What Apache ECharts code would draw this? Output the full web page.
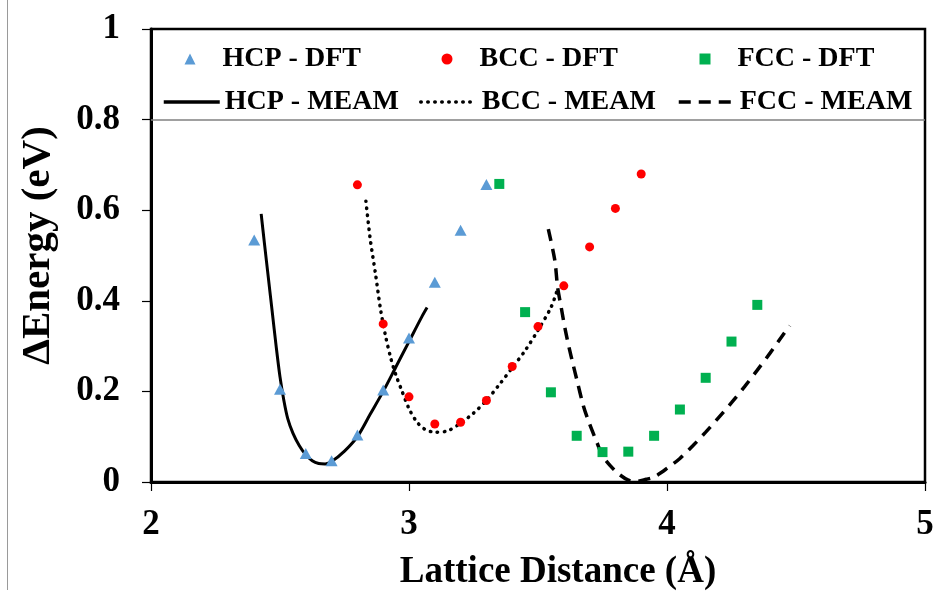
<!DOCTYPE html>
<html>
<head>
<meta charset="utf-8">
<title>Lattice Distance vs ΔEnergy</title>
<script src="https://cdn.jsdelivr.net/npm/echarts@6.0.0/dist/echarts.min.js"></script>
<style>
  html, body { margin: 0; padding: 0; background: #fff; }
  #chart { width: 938px; height: 594px; }
</style>
</head>
<body>
<div id="chart"></div>
<script>
// DFT points [lattice distance (Å), ΔE (eV)]
const hcpDft = [
  [2.4, 0.534], [2.5, 0.205], [2.6, 0.063], [2.7, 0.047], [2.8, 0.104],
  [2.9, 0.203], [3.0, 0.318], [3.1, 0.441], [3.2, 0.556], [3.3, 0.657]
]
const bccDft = [
  [2.8, 0.656], [2.9, 0.349], [3.0, 0.188], [3.1, 0.128], [3.2, 0.132],
  [3.3, 0.180], [3.4, 0.255], [3.5, 0.343], [3.6, 0.433], [3.7, 0.519],
  [3.8, 0.604], [3.9, 0.680]
]
const fccDft = [
  [3.35, 0.658], [3.45, 0.375], [3.55, 0.198], [3.65, 0.102], [3.75, 0.066],
  [3.85, 0.067], [3.95, 0.102], [4.05, 0.160], [4.15, 0.230], [4.25, 0.310],
  [4.35, 0.391]
]

// MEAM curves
const hcpMeam = [
  [2.427, 0.592], [2.44, 0.525], [2.455, 0.45], [2.47, 0.375], [2.485, 0.30],
  [2.5, 0.232], [2.515, 0.18], [2.53, 0.14], [2.55, 0.108], [2.575, 0.08],
  [2.6, 0.06], [2.625, 0.047], [2.65, 0.041], [2.675, 0.040], [2.7, 0.045],
  [2.75, 0.068], [2.8, 0.10], [2.85, 0.15], [2.9, 0.20], [2.95, 0.255],
  [3.0, 0.31], [3.05, 0.365], [3.07, 0.385]
]
const bccMeam = [
  [2.833, 0.62], [2.85, 0.535], [2.87, 0.46], [2.89, 0.38], [2.91, 0.32],
  [2.93, 0.272], [2.95, 0.235], [2.97, 0.205], [3.0, 0.162], [3.03, 0.133],
  [3.06, 0.117], [3.1, 0.110], [3.15, 0.113], [3.2, 0.13], [3.25, 0.152],
  [3.3, 0.18], [3.35, 0.215], [3.4, 0.252], [3.45, 0.29], [3.5, 0.335],
  [3.55, 0.385], [3.572, 0.419]
]
const fccMeam = [
  [3.54, 0.558], [3.565, 0.49], [3.576, 0.43], [3.59, 0.385], [3.605, 0.338],
  [3.62, 0.298], [3.637, 0.257], [3.65, 0.227], [3.676, 0.168], [3.7, 0.128],
  [3.728, 0.088], [3.75, 0.058], [3.78, 0.036], [3.81, 0.019], [3.85, 0.004],
  [3.88, 0.001], [3.92, 0.006], [3.95, 0.011], [4.0, 0.03], [4.05, 0.052],
  [4.1, 0.08], [4.15, 0.11], [4.2, 0.142], [4.25, 0.175], [4.3, 0.21],
  [4.35, 0.247], [4.4, 0.285], [4.45, 0.325], [4.476, 0.345]
]

const xTicks = [2, 3, 4, 5]
const yTicks = [0, 0.2, 0.4, 0.6, 0.8, 1]
const legendLine = 0.8

const serif = 'Liberation Serif'
const chart = echarts.init(document.getElementById('chart'))

const legendText = {
  fontFamily: serif,
  fontWeight: 'bold',
  fontSize: 28,
  lineHeight: 30,
  color: '#000'
}

// marker rows: small icon, text pushed to line up with the line rows
const dftLegend = (name, left) => ({
  left: left,
  top: 44,
  padding: 0,
  itemWidth: 11,
  itemHeight: 11,
  selectedMode: false,
  data: [name],
  textStyle: Object.assign({}, legendText, { padding: [0, 0, 0, 22] })
})

const meamLegend = (name, left) => ({
  left: left,
  top: 87,
  padding: 0,
  itemWidth: 56,
  itemHeight: 11,
  selectedMode: false,
  data: [name],
  itemStyle: { opacity: 0 },
  lineStyle: { width: 3.5 },
  textStyle: legendText
})

const option = {
  backgroundColor: '#fff',
  animation: false,
  graphic: [
    {
      type: 'line',
      shape: { x1: 7.5, y1: 0, x2: 7.5, y2: 590 },
      style: { stroke: '#9a9a9a', lineWidth: 1 },
      silent: true
    }
  ],
  legend: [
    dftLegend('HCP - DFT', 184.5),
    dftLegend('BCC - DFT', 441.5),
    dftLegend('FCC - DFT', 699.5),
    meamLegend('HCP - MEAM', 162),
    meamLegend('BCC - MEAM', 419),
    meamLegend('FCC - MEAM', 677)
  ],
  grid: {
    left: 151,
    right: 13,
    top: 29,
    bottom: 112,
    show: true,
    borderColor: '#000',
    borderWidth: 2.5,
    outerBoundsMode: 'none'
  },
  xAxis: {
    type: 'value',
    min: xTicks[0],
    max: xTicks[xTicks.length - 1],
    interval: 1,
    name: 'Lattice Distance (Å)',
    nameLocation: 'middle',
    nameGap: 72,
    nameTextStyle: {
      fontFamily: serif, fontWeight: 'bold', fontSize: 37, color: '#000',
      padding: [0, 0, 0, 40]
    },
    axisLine: { show: true, lineStyle: { color: '#000', width: 3 } },
    axisTick: { show: true, inside: false, length: 9, lineStyle: { color: '#000', width: 1.2 } },
    axisLabel: { fontFamily: serif, fontWeight: 'bold', fontSize: 35, color: '#000', margin: 25 },
    splitLine: { show: false }
  },
  yAxis: {
    type: 'value',
    min: yTicks[0],
    max: yTicks[yTicks.length - 1],
    interval: 0.2,
    name: 'ΔEnergy (eV)',
    nameLocation: 'middle',
    nameGap: 92,
    nameTextStyle: {
      fontFamily: serif, fontWeight: 'bold', fontSize: 41, color: '#000',
      padding: [0, 0, 0, 20]
    },
    axisLine: { show: true, lineStyle: { color: '#000', width: 3 } },
    axisTick: { show: true, inside: false, length: 9, lineStyle: { color: '#000', width: 1.2 } },
    axisLabel: { fontFamily: serif, fontWeight: 'bold', fontSize: 35, color: '#000', margin: 31 },
    splitLine: { show: false }
  },
  series: [
    {
      name: 'HCP - MEAM',
      type: 'line',
      data: hcpMeam,
      smooth: 0.3,
      symbol: 'none',
      z: 2,
      lineStyle: { color: '#000', width: 3 },
      itemStyle: { color: '#000' },
      markLine: {
        silent: true,
        symbol: 'none',
        label: { show: false },
        lineStyle: { color: '#808080', width: 1.5, type: 'solid' },
        data: [{ yAxis: legendLine }]
      }
    },
    {
      name: 'BCC - MEAM',
      type: 'line',
      data: bccMeam,
      smooth: 0.3,
      symbol: 'none',
      z: 2,
      lineStyle: { color: '#000', width: 3.5, type: [0.5, 6.5], cap: 'round' },
      itemStyle: { color: '#000' }
    },
    {
      name: 'FCC - MEAM',
      type: 'line',
      data: fccMeam,
      smooth: 0.3,
      symbol: 'none',
      z: 2,
      lineStyle: { color: '#000', width: 3.5, type: [12, 8] },
      itemStyle: { color: '#000' }
    },
    {
      name: 'HCP - DFT',
      type: 'scatter',
      data: hcpDft,
      symbol: 'triangle',
      symbolSize: [12, 11],
      z: 3,
      itemStyle: { color: '#5B9BD5', opacity: 1 }
    },
    {
      name: 'BCC - DFT',
      type: 'scatter',
      data: bccDft,
      symbol: 'circle',
      symbolSize: 9,
      z: 3,
      itemStyle: { color: '#FF0000', opacity: 1 }
    },
    {
      name: 'FCC - DFT',
      type: 'scatter',
      data: fccDft,
      symbol: 'rect',
      symbolSize: 10,
      z: 3,
      itemStyle: { color: '#00B050', opacity: 1 }
    }
  ]
}

chart.setOption(option)
window.addEventListener('resize', () => {
  chart.resize()
})
</script>
</body>
</html>
